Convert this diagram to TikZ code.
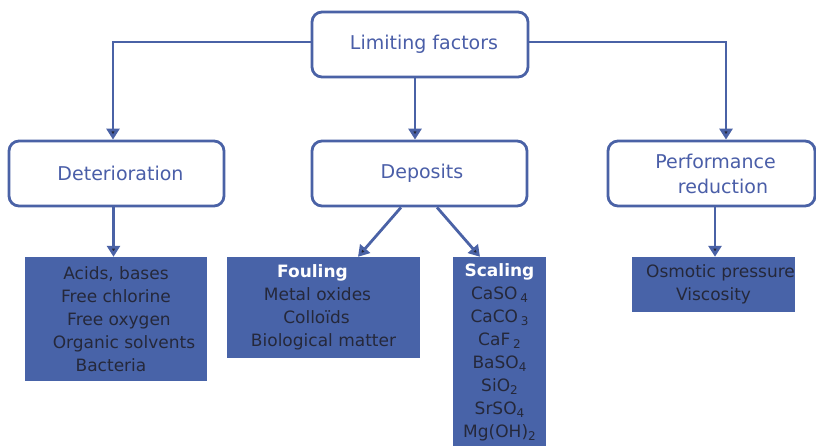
\documentclass[tikz,border=0pt]{standalone}
\usepackage{fontspec}
\setmainfont{DejaVu Sans}
\usetikzlibrary{arrows.meta}
\definecolor{lineblue}{HTML}{4A62A6}
\definecolor{fillblue}{HTML}{4863A8}
\definecolor{txtblue}{HTML}{4A5EA8}
\definecolor{darktxt}{HTML}{25283A}
\newcommand\sbx[1]{\raisebox{-0.4ex}{\fontsize{12}{12}\selectfont #1}}
\begin{document}
\begin{tikzpicture}[x=1pt,y=-1pt,
  cat/.style={draw=lineblue, line width=2.8pt, rounded corners=10pt, fill=white, text=txtblue,
    font=\fontsize{19}{25}\selectfont, align=center, inner sep=0pt},
  leaf/.style={fill=fillblue, text=darktxt, font=\fontsize{17}{23}\selectfont, align=center, inner sep=0pt},
  conn/.style={draw=lineblue, line width=2.8pt, -{Triangle[width=13pt,length=11pt,fill=darktxt]}}
  ]
\useasboundingbox (0,0) rectangle (816,446);
\fill[white] (0,0) rectangle (816,446);

\node[cat, minimum width=216pt, minimum height=65pt] (top) at (420,44.5) {\hspace{8pt}Limiting factors};
\node[cat, minimum width=215pt, minimum height=65pt] (det) at (116.5,173.5) {\hspace{8pt}Deterioration};
\node[cat, minimum width=215pt, minimum height=65pt] (dep) at (419.5,173.5) {\hspace{5pt}Deposits};
\node[cat, minimum width=207pt, minimum height=65pt] (perf) at (711.5,173.5) {\hspace{8pt}Performance\\\hspace{23pt}reduction};

\node[leaf, minimum width=182pt, minimum height=124pt] (detl) at (116,319)
  {\rule{0pt}{3pt}Acids, bases\\Free chlorine\\\hspace{6pt}Free oxygen\\\hspace{16pt}Organic solvents\\\hspace{-10pt}Bacteria};
\node[leaf, minimum width=193pt, minimum height=101pt] (foul) at (323.5,307.5)
  {\hspace{-22pt}{\bfseries\color{white}Fouling}\\\hspace{-12pt}Metal oxides\\\hspace{-14pt}Colloïds\\Biological matter};
\node[leaf, minimum width=93pt, minimum height=190pt] (scal) at (499.5,352)
  {{\bfseries\color{white}Scaling}\\CaSO\,\sbx{4}\\CaCO\,\sbx{3}\\CaF\,\sbx{2}\\BaSO\sbx{4}\\SiO\sbx{2}\\SrSO\sbx{4}\\Mg(OH)\sbx{2}};
\node[leaf, minimum width=161pt, minimum height=55pt] (perfl) at (713.5,284.5)
  {\hspace{14pt}Osmotic pressure\\Viscosity};

\draw[conn] ([yshift=2.5pt]top.west) -| ([xshift=-3.5pt]det.north);
\draw[conn] ([yshift=2.5pt]top.east) -| ([xshift=14.5pt]perf.north);
\draw[conn] ([xshift=-5pt]top.south) -- ([xshift=-4.5pt]dep.north);
\draw[conn] ([xshift=-3pt]det.south) -- ([xshift=-2.5pt]detl.north);
\draw[conn] ([xshift=-18.5pt]dep.south) -- ([xshift=34.5pt]foul.north);
\draw[conn] ([xshift=17.5pt]dep.south) -- ([xshift=-19.5pt]scal.north);
\draw[conn] ([xshift=3.5pt]perf.south) -- ([xshift=1.5pt]perfl.north);
\end{tikzpicture}
\end{document}
